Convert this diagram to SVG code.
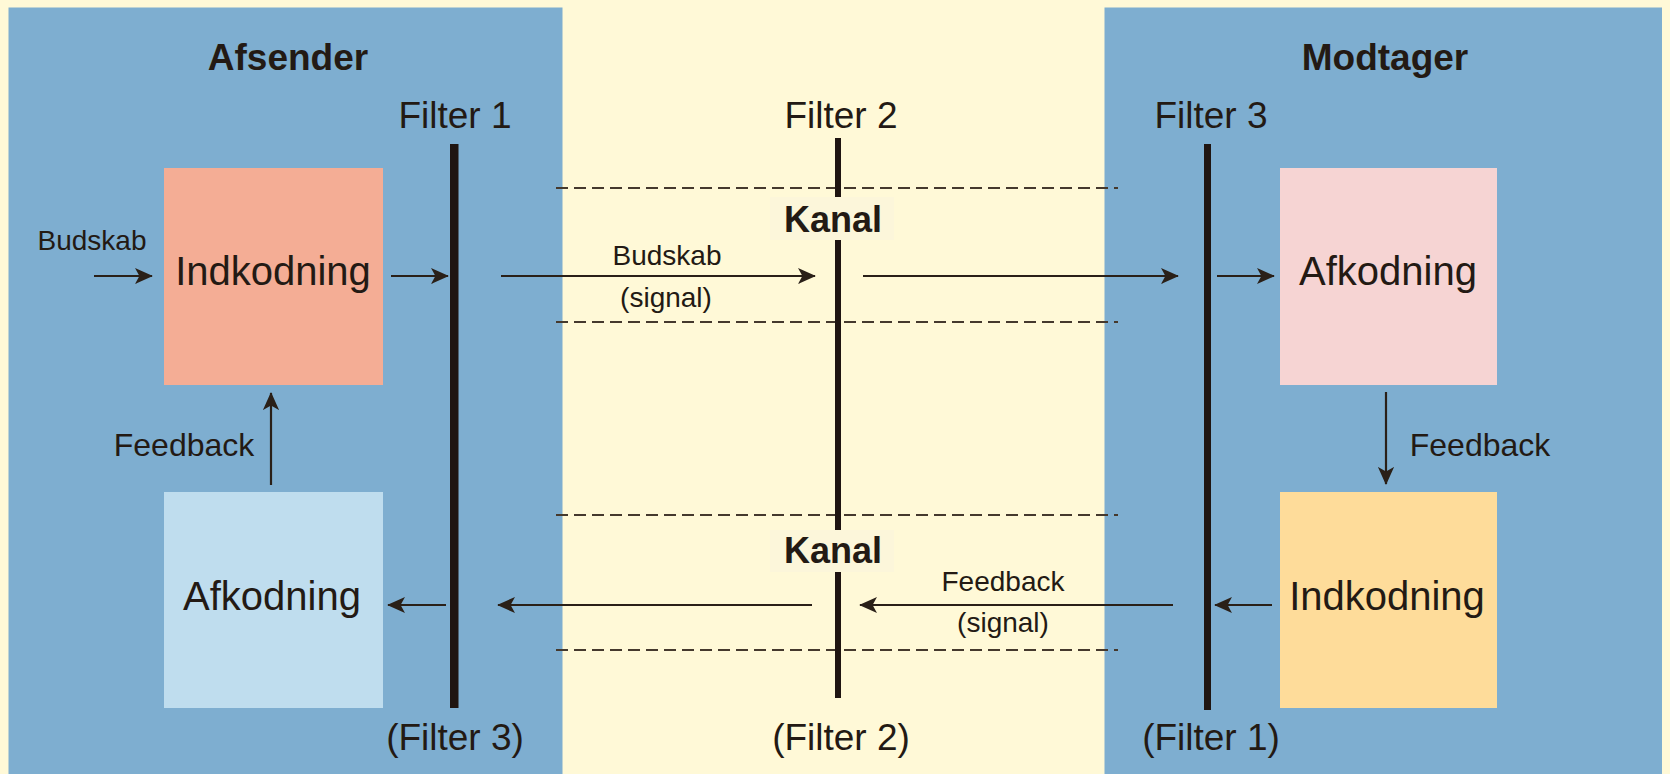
<svg xmlns="http://www.w3.org/2000/svg" width="1670" height="774" viewBox="0 0 1670 774">
  <defs>
    <marker id="ah" markerUnits="userSpaceOnUse" viewBox="0 0 20 20" refX="19" refY="10" markerWidth="18" markerHeight="18" orient="auto">
      <path d="M0,1 L20,10 L0,19 L5,10 Z" fill="#2a2018"/>
    </marker>
  </defs>
  <style>
    text { font-family: "Liberation Sans", Arial, sans-serif; fill: #231a14; text-anchor: middle; }
    .title { font-weight: bold; font-size: 37px; }
    .filt { font-size: 37px; }
    .box { font-size: 40px; }
    .fb { font-size: 32px; }
    .small { font-size: 28px; }
    .kanal { font-weight: bold; font-size: 36px; }
    .bar { fill: #1f1511; }
    .dash { stroke: #45392d; stroke-width: 2.2; stroke-dasharray: 12 6; fill: none; }
    .conn { stroke: #2a2018; stroke-width: 2.2; fill: none; marker-end: url(#ah); }
    .kbg { fill: #FCF6DA; }
  </style>

  <!-- background -->
  <rect x="0" y="0" width="1670" height="774" fill="#FFF9D7"/>

  <g id="afsender-panel">
    <rect x="8.5" y="7.5" width="554" height="767" fill="#7EAED0"/>
    <text class="title" x="288" y="70">Afsender</text>
  </g>
  <g id="modtager-panel">
    <rect x="1104.5" y="7.5" width="557.5" height="767" fill="#7EAED0"/>
    <text class="title" x="1385" y="70">Modtager</text>
  </g>

  <!-- channel dashed lines -->
  <g id="kanal-lines">
    <line class="dash" x1="556" y1="188" x2="1118" y2="188"/>
    <line class="dash" x1="556" y1="322" x2="1118" y2="322"/>
    <line class="dash" x1="556" y1="515" x2="1118" y2="515"/>
    <line class="dash" x1="556" y1="650" x2="1118" y2="650"/>
  </g>

  <g id="filter1">
    <text class="filt" x="455" y="128">Filter 1</text>
    <rect class="bar" x="450" y="144" width="8.5" height="564"/>
    <text class="filt" x="455" y="750">(Filter 3)</text>
  </g>

  <g id="filter2">
    <text class="filt" x="841" y="128">Filter 2</text>
    <rect class="bar" x="835" y="138" width="6" height="59"/>
    <rect class="bar" x="835" y="240" width="6" height="290"/>
    <rect class="bar" x="835" y="572" width="6" height="126"/>
    <text class="filt" x="841" y="750">(Filter 2)</text>
  </g>

  <g id="filter3">
    <text class="filt" x="1211" y="128">Filter 3</text>
    <rect class="bar" x="1204" y="144" width="7" height="566"/>
    <text class="filt" x="1211" y="750">(Filter 1)</text>
  </g>

  <g id="kanal1">
    <rect class="kbg" x="770" y="197" width="124" height="43"/>
    <text class="kanal" x="833" y="232">Kanal</text>
  </g>
  <g id="kanal2">
    <rect class="kbg" x="770" y="530" width="124" height="42"/>
    <text class="kanal" x="833" y="563">Kanal</text>
  </g>

  <g id="indkodning-sender">
    <rect x="164" y="168" width="219" height="217" fill="#F4AD95"/>
    <text class="box" x="273" y="285">Indkodning</text>
  </g>
  <g id="afkodning-sender">
    <rect x="164" y="492" width="219" height="216" fill="#BFDDEE"/>
    <text class="box" x="272" y="610">Afkodning</text>
  </g>
  <g id="afkodning-modtager">
    <rect x="1280" y="168" width="217" height="217" fill="#F6D4D3"/>
    <text class="box" x="1388" y="285">Afkodning</text>
  </g>
  <g id="indkodning-modtager">
    <rect x="1280" y="492" width="217" height="216" fill="#FEDC9A"/>
    <text class="box" x="1387" y="610">Indkodning</text>
  </g>

  <g id="connectors">
    <line class="conn" x1="94" y1="276" x2="152" y2="276"/>
    <line class="conn" x1="391" y1="276" x2="448" y2="276"/>
    <line class="conn" x1="501" y1="276" x2="815" y2="276"/>
    <line class="conn" x1="863" y1="276" x2="1178" y2="276"/>
    <line class="conn" x1="1217" y1="276" x2="1274" y2="276"/>
    <line class="conn" x1="1386" y1="392" x2="1386" y2="484"/>
    <line class="conn" x1="1272" y1="605" x2="1215" y2="605"/>
    <line class="conn" x1="1173" y1="605" x2="860" y2="605"/>
    <line class="conn" x1="812" y1="605" x2="498" y2="605"/>
    <line class="conn" x1="446" y1="605" x2="388" y2="605"/>
    <line class="conn" x1="271" y1="485" x2="271" y2="393"/>
  </g>

  <g id="connector-labels">
    <text class="small" x="92" y="250">Budskab</text>
    <text class="small" x="667" y="265">Budskab</text>
    <text class="small" x="666" y="307">(signal)</text>
    <text class="small" x="1003" y="591">Feedback</text>
    <text class="small" x="1003" y="632">(signal)</text>
    <text class="fb" x="184" y="456">Feedback</text>
    <text class="fb" x="1480" y="456">Feedback</text>
  </g>
</svg>
